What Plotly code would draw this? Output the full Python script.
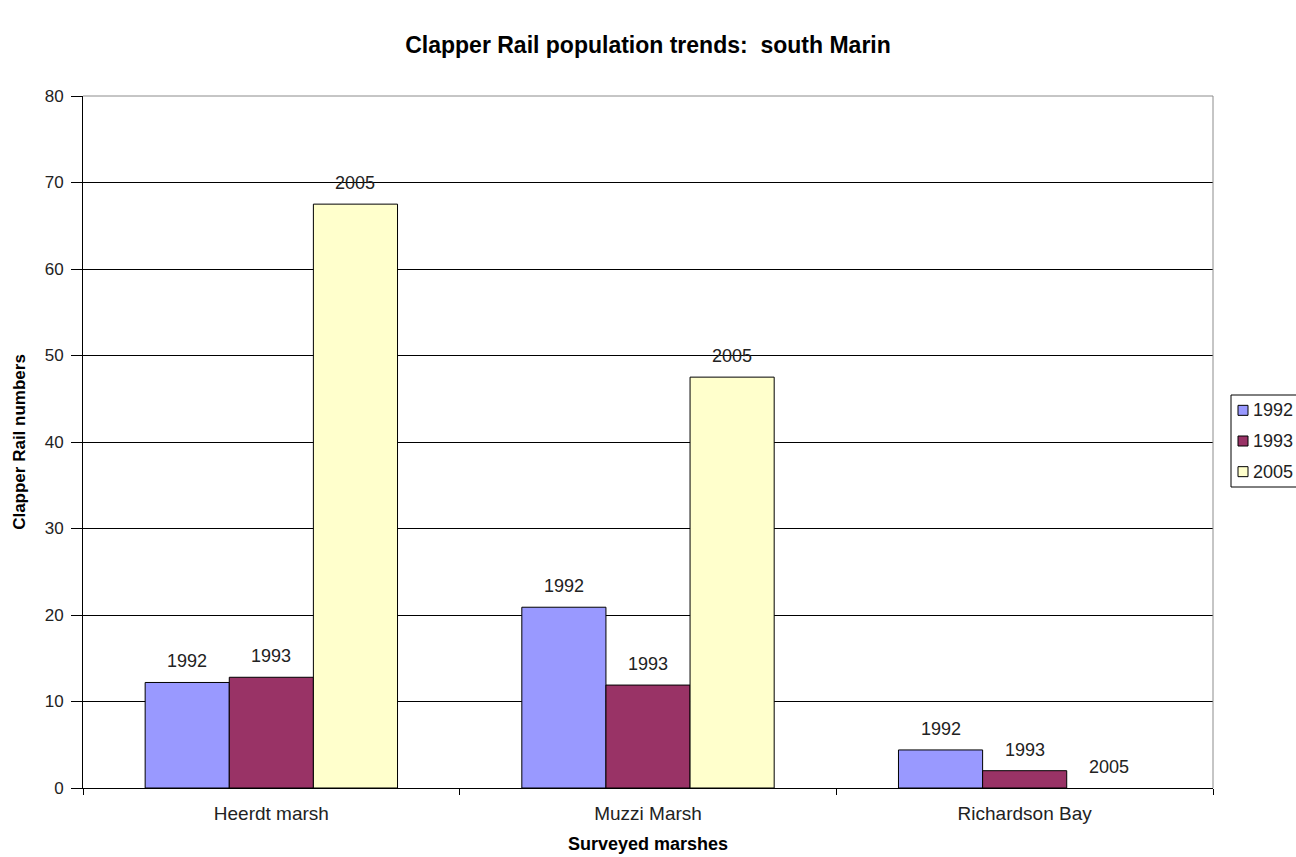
import plotly.graph_objects as go

marshes = ["Heerdt marsh", "Muzzi Marsh", "Richardson Bay"]
years = ["1992", "1993", "2005"]
counts_1992 = [12.2, 20.9, 4.4]
counts_1993 = [12.8, 11.9, 2.0]
counts_2005 = [67.5, 47.5, 0.0]
y_ticks = [0, 10, 20, 30, 40, 50, 60, 70, 80]

series = [counts_1992, counts_1993, counts_2005]
colors = ["#9999FF", "#993366", "#FFFFCC"]

FONT = "Liberation Sans, Arial, sans-serif"
BARGAP = 0.33

fig = go.Figure()
for year, vals, col in zip(years, series, colors):
    fig.add_trace(go.Bar(
        x=marshes, y=vals, name=year, showlegend=False,
        marker=dict(color=col,
                    line=dict(color="#000000",
                              width=[1 if v > 0 else 0 for v in vals])),
        hoverinfo="x+y+name",
    ))

# year labels sitting above each bar of the grouped clusters
bar_w = (1 - BARGAP) / len(years)
for k, (year, vals) in enumerate(zip(years, series)):
    offset = (k - (len(years) - 1) / 2) * bar_w
    for i, v in enumerate(vals):
        fig.add_annotation(x=i + offset, y=v, xref="x", yref="y",
                           text=year, showarrow=False,
                           xanchor="center", yanchor="middle", yshift=21,
                           font=dict(family=FONT, size=18, color="#222222"))

fig.update_layout(
    width=1296, height=857,
    margin=dict(l=83, r=83, t=96, b=69, autoexpand=False),
    paper_bgcolor="white", plot_bgcolor="white",
    barmode="group", bargap=BARGAP, bargroupgap=0,
    font=dict(family=FONT, size=16, color="#222222"),
    title=dict(
        text="<b>Clapper Rail population trends:  south Marin</b>",
        x=648 / 1296, xanchor="center", xref="paper",
        y=1 - 45 / 857, yanchor="middle", yref="container",
        font=dict(family=FONT, size=23, color="#000000"),
    ),
)

fig.update_xaxes(
    showgrid=False, showline=True, linecolor="#000000", linewidth=1,
    ticks="outside", tickson="boundaries", ticklen=6, tickcolor="#000000",
    ticklabelstandoff=8,
    tickfont=dict(family=FONT, size=19, color="#222222"),
    title=dict(text="<b>Surveyed marshes</b>", standoff=14,
               font=dict(family=FONT, size=18, color="#000000")),
)
fig.update_yaxes(
    range=[0, 80], tickvals=y_ticks,
    showgrid=True, gridcolor="#000000", gridwidth=1,
    showline=True, linecolor="#000000", linewidth=1,
    ticks="outside", ticklen=11, tickcolor="#000000",
    ticklabelstandoff=4,
    tickfont=dict(family=FONT, size=17, color="#222222"),
    title=dict(text="<b>Clapper Rail numbers</b>", standoff=14,
               font=dict(family=FONT, size=17, color="#000000")),
    zeroline=False,
)

# light grey frame along the top and right edges of the plot area
fig.add_shape(type="line", xref="paper", yref="paper", x0=0, x1=1, y0=1, y1=1,
              line=dict(color="#8c8c8c", width=1))
fig.add_shape(type="line", xref="paper", yref="paper", x0=1, x1=1, y0=0, y1=1,
              line=dict(color="#8c8c8c", width=1))

# compact legend box to the right of the plot area (paper coordinates)
plot_w, plot_h = 1296 - 83 - 83, 857 - 96 - 69
def px_x(px):
    return (px - 83) / plot_w
def px_y(py):
    return (857 - 69 - py) / plot_h

box_l, box_t, box_b = 1231, 395, 487
fig.add_shape(type="rect", xref="paper", yref="paper",
              x0=px_x(box_l), x1=px_x(1300), y0=px_y(box_b), y1=px_y(box_t),
              line=dict(color="#000000", width=1), fillcolor="white")
row_h = (box_b - box_t) / len(years)
for i, (year, col) in enumerate(zip(years, colors)):
    cy = box_t + row_h * (i + 0.5)
    fig.add_shape(type="rect", xref="paper", yref="paper",
                  x0=px_x(1238), x1=px_x(1248), y0=px_y(cy + 5), y1=px_y(cy - 5),
                  line=dict(color="#000000", width=1), fillcolor=col)
    fig.add_annotation(x=px_x(1251), y=px_y(cy), xref="paper", yref="paper",
                       text=year, showarrow=False, xanchor="left", yanchor="middle",
                       font=dict(family=FONT, size=18, color="#222222"))

fig.write_html("out.html")
